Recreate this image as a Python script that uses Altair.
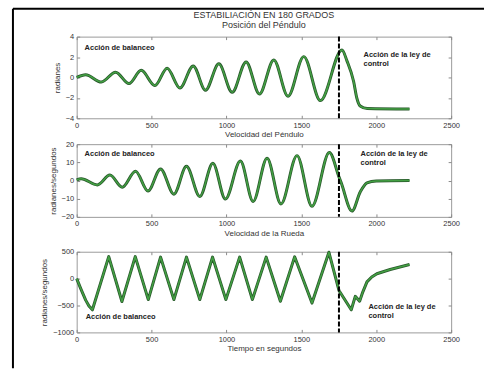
import altair as alt
import pandas as pd

FONT = "Liberation Sans"
DARK = "#28572b"
GREEN = "#43a043"

# ---------------- data ----------------
x_ticks = [0, 500, 1000, 1500, 2000, 2500]
t_ctrl = [1751]  # switch to the control law

# Panel 1: Posición del Péndulo (radianes)
t_pos = [0, 60, 165, 260, 349, 431, 522, 604, 689, 778, 860, 949, 1038, 1131,
         1220, 1316, 1411, 1516, 1627, 1771, 1805, 1849, 1870, 1893, 1940, 2222]
v_pos = [0, 0.26, -0.45, 0.52, -0.6, 0.7, -0.8, 0.9, -1.03, 1.13, -1.26, 1.33,
         -1.46, 1.52, -1.62, 1.72, -1.84, 2.04, -2.27, 2.69, 1.6, -0.4, -2.0,
         -2.8, -3.05, -3.1]

# Panel 2: Velocidad del Péndulo (radianes/segundos)
t_vel = [0, 30, 138, 222, 304, 393, 476, 560, 649, 733, 822, 909, 993, 1093,
         1178, 1271, 1364, 1471, 1571, 1687, 1751, 1765, 1838, 1893, 1938, 2000,
         2222]
v_vel = [0.3, 1.0, -2.4, 3.0, -3.7, 5.1, -5.8, 6.4, -7.5, 7.8, -8.8, 9.5, -10.2,
         10.7, -11.5, 12.3, -12.9, 13.7, -14.2, 15.4, 2.0, -1.0, -16.8, -6.3,
         -1.3, -0.2, 0]

# Panel 3: Velocidad de la Rueda (radianes/segundos)
t_whl = [0, 27, 60, 82, 105, 214, 302, 391, 478, 560, 649, 733, 822, 907, 996,
         1088, 1173, 1265, 1360, 1455, 1571, 1684, 1751, 1833, 1860, 1889, 1910,
         1938, 1970, 2004, 2093, 2222]
v_whl = [0, -185, -400, -510, -580, 410, -425, 410, -390, 400, -390, 400, -390,
         400, -390, 400, -390, 400, -420, 405, -455, 490, -220, -580, -330, -420,
         -250, -60, 30, 90, 170, 262]

# annotations (data coordinates)
ann_txt = ["Acción de balanceo", "Acción de la ley de", "control"]
ann1_t = [53, 1915, 1915]
ann1_v = [2.93, 2.24, 1.36]
ann2_t = [53, 1895, 1895]
ann2_v = [14.5, 14.5, 9.6]
ann3_t = [60, 1948, 1948]
ann3_v = [-717, -531, -704]


def panel(t, v, interp, ydom, yticks, ytitle, at, av, height,
          xtitle, title=None, frame=False):
    df = pd.DataFrame({"t": t, "v": v})
    xs = alt.Scale(domain=[0, 2500], nice=False, zero=False)
    ys = alt.Scale(domain=ydom, nice=False, zero=False)
    common = dict(offset=-3, tickSize=3, domain=False, grid=False,
                  labelFlush=False, labelOverlap=False)
    xb = alt.Axis(values=x_ticks, orient="bottom", labelPadding=3, format="d",
                  title=xtitle, titlePadding=2, **common)
    yl = alt.Axis(values=yticks, orient="left", labelPadding=3, format="d",
                  title=ytitle, titlePadding=4, **common)
    xt = alt.Axis(values=x_ticks, orient="top", labels=False, title=None, **common)
    yr = alt.Axis(values=yticks, orient="right", labels=False, title=None, **common)

    under = alt.Chart(df).mark_line(
        interpolate=interp, color=DARK, strokeWidth=3.0, strokeJoin="round"
    ).encode(x=alt.X("t:Q", scale=xs, axis=xb), y=alt.Y("v:Q", scale=ys, axis=yl))
    over = alt.Chart(df).mark_line(
        interpolate=interp, color=GREEN, strokeWidth=1.5, strokeJoin="round"
    ).encode(x=alt.X("t:Q", scale=xs, axis=xt), y=alt.Y("v:Q", scale=ys, axis=yr))
    rule = alt.Chart(pd.DataFrame({"t": t_ctrl})).mark_rule(
        color="black", strokeWidth=2, strokeDash=[5, 2]
    ).encode(x=alt.X("t:Q", scale=xs, axis=None))
    adf = pd.DataFrame({"t": at, "v": av, "txt": ann_txt})
    text = alt.Chart(adf).mark_text(
        align="left", baseline="middle", font=FONT, fontSize=7.5,
        fontWeight="bold", color="#222222"
    ).encode(x=alt.X("t:Q", scale=xs, axis=None),
             y=alt.Y("v:Q", scale=ys, axis=None), text="txt:N")
    layers = [under, over, rule, text]
    if frame:
        # figure frame (left and top edges), placed relative to this panel
        fdf = pd.DataFrame({"a": [0]})
        left = alt.Chart(fdf).mark_rule(color="black", strokeWidth=2).encode(
            x=alt.value(-64), y=alt.value(-244), y2=alt.value(117))
        top = alt.Chart(fdf).mark_rule(color="black", strokeWidth=2).encode(
            x=alt.value(-64), x2=alt.value(409), y=alt.value(-244))
        layers += [left, top]
    ch = alt.layer(*layers).resolve_axis(x="independent", y="independent")
    if title is not None:
        return ch.properties(width=376, height=height, title=title)
    return ch.properties(width=376, height=height)


def spacer(h):
    return alt.Chart(pd.DataFrame({"a": [0]})).mark_point(opacity=0).encode(
        x=alt.value(0), y=alt.value(0)
    ).properties(width=376, height=h, view=alt.ViewBackground(strokeOpacity=0))


p1 = panel(t_pos, v_pos, "monotone", [-4, 4], [-4, -2, 0, 2, 4], "radianes",
           ann1_t, ann1_v, 82, "Velocidad del Péndulo",
           title=alt.TitleParams(
               text=["ESTABILIACIÓN EN 180 GRADOS", "Posición del Péndulo"],
               offset=3, lineHeight=10))
p2 = panel(t_vel, v_vel, "monotone", [-20, 20], [-20, -10, 0, 10, 20],
           "radianes/segundos", ann2_t, ann2_v, 73, "Velocidad de la Rueda")
p3 = panel(t_whl, v_whl, "linear", [-1000, 500], [-1000, -500, 0, 500],
           "radianes/segundos", ann3_t, ann3_v, 81, "Tiempo en segundos",
           frame=True)

chart = alt.vconcat(p1, spacer(26), p2, spacer(35), p3,
                    spacing=0, bounds="flush").properties(
    padding={"left": 11, "top": 6, "right": 0, "bottom": 0},
    background="white",
).configure_view(
    stroke="#9a9a9a", strokeWidth=1
).configure_axis(
    labelFont=FONT, labelFontSize=7.5, labelColor="#333333",
    tickColor="#8a8a8a", titleFont=FONT, titleFontSize=8,
    titleColor="#333333", titleFontWeight="normal"
).configure_title(
    font=FONT, fontSize=9, color="#333333", fontWeight="normal", anchor="middle"
)

chart.save("out.html", embed_options={"renderer": "svg", "actions": False})
